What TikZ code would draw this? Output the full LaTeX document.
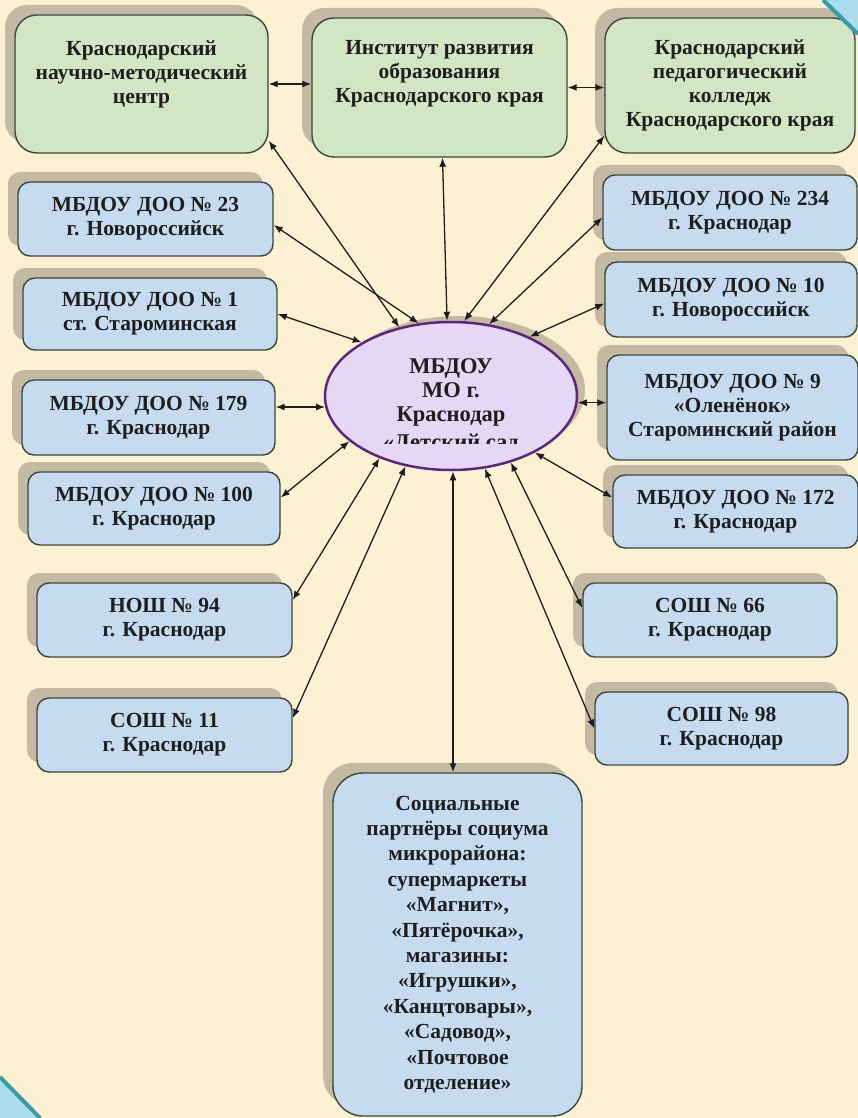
\documentclass[tikz,border=0pt]{standalone}
\usepackage{fontspec}
\setmainfont{Liberation Serif}
\usetikzlibrary{shapes.geometric,shadows,arrows.meta}
\definecolor{bg}{HTML}{FDF1D3}
\definecolor{gfill}{HTML}{D2E6C3}
\definecolor{bfill}{HTML}{C6DBF0}
\definecolor{bord}{HTML}{3C463C}
\definecolor{shad}{HTML}{C4BAA4}
\definecolor{efill}{HTML}{E6D7F5}
\definecolor{eline}{HTML}{5A2878}
\definecolor{txt}{HTML}{1E1E1E}
\definecolor{cyanl}{HTML}{A9DCEC}
\definecolor{tealc}{HTML}{3A9AA6}
\begin{document}
\begin{tikzpicture}[x=1pt,y=-1pt,
  box/.style={draw=bord, line width=1.4pt, rounded corners=12pt, align=center, text=txt,
    font=\fontsize{21.5}{24}\selectfont\bfseries, inner sep=0pt,
    drop shadow={shadow xshift=-10pt, shadow yshift=10pt, fill=shad, opacity=1}},
  gbox/.style={box, fill=gfill, rounded corners=22pt},
  bbox/.style={box, fill=bfill},
  etxt/.style={text=txt, font=\fontsize{22.5}{24}\selectfont\bfseries, inner sep=0pt, anchor=base},
  conn/.style={{Latex[length=9pt,width=7pt]}-{Latex[length=9pt,width=7pt]}, line width=1.3pt, draw=txt}]
\useasboundingbox (0,0) rectangle (858,1118);
\fill[bg] (0,0) rectangle (858,1118);

% green boxes
\node[gbox, minimum width=253pt, minimum height=138pt] (g1) at (141.5,84)
  {Краснодарский\\научно-методический\\центр\\\mbox{}};
\node[gbox, minimum width=255pt, minimum height=139pt] (g2) at (439.5,87.5)
  {Институт развития\\образования\\Краснодарского края\\[9pt]\mbox{}};
\node[gbox, minimum width=250pt, minimum height=135pt] (g3) at (730,85.5)
  {Краснодарский\\педагогический\\колледж\\Краснодарского края};

% left blue boxes
\node[bbox, minimum width=255pt, minimum height=74pt] (b23) at (145.5,219) {МБДОУ ДОО № 23\\г. Новороссийск};
\node[bbox, minimum width=254pt, minimum height=72pt] (b1) at (150,314) {МБДОУ ДОО № 1\\ст. Староминская};
\node[bbox, minimum width=253pt, minimum height=75pt] (b179) at (148.5,417.5) {МБДОУ ДОО № 179\\г. Краснодар};
\node[bbox, minimum width=252pt, minimum height=73pt] (b100) at (154,508.5) {МБДОУ ДОО № 100\\г. Краснодар};
\node[bbox, minimum width=255pt, minimum height=74pt] (n94) at (164.5,620) {НОШ № 94\\г. Краснодар};
\node[bbox, minimum width=255pt, minimum height=74pt] (s11) at (164.5,735) {СОШ № 11\\г. Краснодар};

% right blue boxes
\node[bbox, minimum width=254pt, minimum height=75pt] (b234) at (730,212.5) {МБДОУ ДОО № 234\\г. Краснодар};
\node[bbox, minimum width=252pt, minimum height=75pt] (b10) at (731,299.5) {МБДОУ ДОО № 10\\г. Новороссийск};
\node[bbox, minimum width=251pt, minimum height=105pt] (b9) at (732.5,407.5) {МБДОУ ДОО № 9\\«Оленёнок»\\Староминский район};
\node[bbox, minimum width=245pt, minimum height=73pt] (b172) at (735.5,511.5) {МБДОУ ДОО № 172\\г. Краснодар};
\node[bbox, minimum width=254pt, minimum height=74pt] (s66) at (710,620) {СОШ № 66\\г. Краснодар};
\node[bbox, minimum width=253pt, minimum height=73pt] (s98) at (721.5,728.5) {СОШ № 98\\г. Краснодар};

% bottom box
\node[bbox, rounded corners=30pt, minimum width=249pt, minimum height=343pt,
  font=\fontsize{21.5}{25.4}\selectfont\bfseries] (soc) at (457.5,944.5)
  {Социальные\\партнёры социума\\микрорайона:\\супермаркеты\\«Магнит»,\\«Пятёрочка»,\\магазины:\\«Игрушки»,\\«Канцтовары»,\\«Садовод»,\\«Почтовое\\отделение»};

% central ellipse
\node[ellipse, draw=eline, line width=2.5pt, fill=efill, minimum width=252pt, minimum height=148pt,
  inner sep=0pt, drop shadow={shadow xshift=8pt, shadow yshift=6pt, fill=shad, opacity=1}] (c) at (451,396) {};
\begin{scope}
  \clip (320,300) rectangle (580,443);
  \node[etxt] (e1) at (451,373) {МБДОУ};
  \node[etxt] (e2) at (451,397) {МО г.};
  \node[etxt] (e3) at (451,421) {Краснодар};
  \node[etxt] (e4) at (451,449) {«Детский сад};
\end{scope}

% connectors
\draw[conn] (g1.east) -- (g1.east -| g2.west);
\draw[conn] (g2.east) -- (g2.east -| g3.west);
\draw[conn] ([yshift=13pt]g1.south east) -- (c.127);
\draw[conn] ([xshift=3pt]g2.south) -- (c.93);
\draw[conn] ([yshift=18pt]g3.south west) -- (c.80);
\draw[conn] ([yshift=-6pt]b23.east) -- (c.114);
\draw[conn] (b1.east) -- (c.149);
\draw[conn] (c.185 -| b179.east) -- (c.185);
\draw[conn] ([yshift=11pt]b100.east) -- (c.204);
\draw[conn] ([yshift=20pt]n94.east) -- (c.221);
\draw[conn] ([yshift=17pt]s11.east) -- (c.237);
\draw[conn] ([xshift=2pt]c.south) -- ([xshift=2pt]c.south |- soc.north);
\draw[conn] (s98.west) -- (c.295);
\draw[conn] ([yshift=12pt]s66.west) -- (c.312);
\draw[conn] ([yshift=14pt]b172.west) -- (c.326);
\draw[conn] (c.357) -- (c.357 -| b9.west);
\draw[conn] ([yshift=-4pt]b10.west) -- (c.37);
\draw[conn] ([yshift=-5pt]b234.west) -- (c.62);

% corner decorations
\fill[cyanl] (823,0) -- (858,0) -- (858,34) -- cycle;
\draw[tealc, line width=4pt] (823,0) -- (858,34);
\fill[cyanl] (0,1077) -- (40,1118) -- (0,1118) -- cycle;
\draw[tealc, line width=4pt] (0,1077) -- (40,1118);
\end{tikzpicture}
\end{document}
